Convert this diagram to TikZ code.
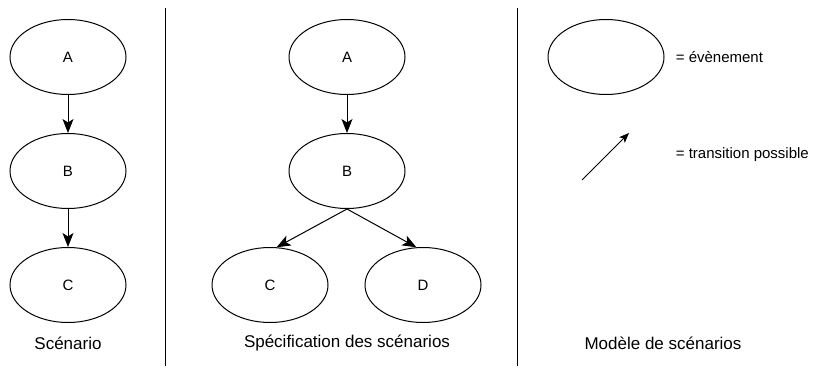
\documentclass[tikz,border=0pt]{standalone}
\usepackage{fontspec}
\setmainfont{Liberation Sans}
\usetikzlibrary{shapes.geometric,arrows.meta}
\begin{document}
\begin{tikzpicture}[x=1pt,y=-1pt,line width=1pt,
  >={Stealth[length=14pt,width=11pt,inset=3.5pt]},
  evt/.style={draw,ellipse,inner sep=0pt,minimum width=116pt,minimum height=75pt},
  titre/.style={font=\fontsize{17}{20}\selectfont},
  every node/.style={font=\fontsize{15}{18}\selectfont}]
\useasboundingbox (0,0) rectangle (830,374);
% scenario
\node[evt] (a1) at (68,57) {A};
\node[evt] (b1) at (68,171) {B};
\node[evt] (c1) at (68,285) {C};
\node[titre] (scen) at (68,343) {Scénario};
\draw[->] (a1) -- (b1);
\draw[->] (b1) -- (c1);
% separateurs
\coordinate (s1h) at (165,8);
\coordinate (s1b) at (165,366);
\coordinate (s2h) at (517,8);
\coordinate (s2b) at (517,366);
\draw (s1h) -- (s1b);
\draw (s2h) -- (s2b);
% specification
\node[evt] (a2) at (347,57) {A};
\node[evt] (b2) at (347,171) {B};
\node[evt] (c2) at (270,285) {C};
\node[evt] (d2) at (423,285) {D};
\node[titre] (spec) at (347,343) {Spécification des scénarios};
\draw[->] (a2) -- (b2);
\draw[->] (b2.south) -- (c2.80);
\draw[->] (b2.south) -- (d2.100);
% modele
\node[evt] (evt) at (606,57) {};
\node[anchor=west] (levt) at (672,57) {= évènement};
\coordinate (tr1) at (582,180);
\coordinate (tr2) at (629,133);
\draw[-{Stealth[length=10pt,width=8pt,inset=2.5pt]}] (tr1) -- (tr2);
\node[anchor=west] (ltr) at (672,155) {= transition possible};
\node[titre] (mod) at (663,343) {Modèle de scénarios};
\end{tikzpicture}
\end{document}
